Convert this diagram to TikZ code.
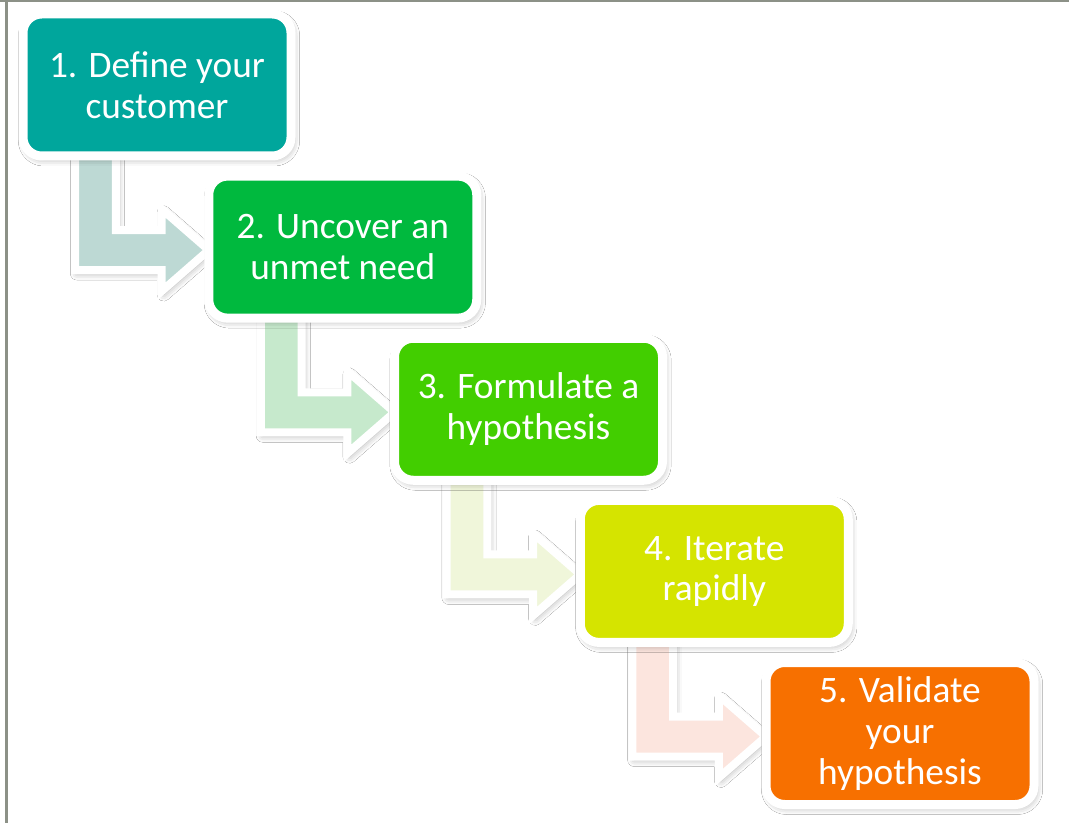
\documentclass[tikz,border=0pt]{standalone}
\usepackage{fontspec}
\setmainfont{Carlito}
\usetikzlibrary{shadows.blur,calc}
\pgfdeclarelayer{background}
\pgfsetlayers{background,main}
\definecolor{c1}{RGB}{0,166,156}
\definecolor{c2}{RGB}{0,185,62}
\definecolor{c3}{RGB}{66,206,0}
\definecolor{c4}{RGB}{213,228,0}
\definecolor{c5}{RGB}{247,112,0}
\definecolor{a1}{RGB}{189,217,212}
\definecolor{a2}{RGB}{198,233,204}
\definecolor{a4}{RGB}{240,246,218}
\definecolor{a5}{RGB}{252,229,222}
\definecolor{framegrey}{RGB}{140,145,135}
\tikzset{
  stepbox/.style={rounded corners=14pt, draw=white, line width=6.75pt,
    minimum width=201pt, minimum height=106.5pt, text=white, align=center,
    font=\fontsize{28}{30.5}\selectfont, inner sep=0pt,
    blur shadow={shadow xshift=1.5pt, shadow yshift=-2.5pt, shadow blur radius=5pt, shadow opacity=35}},
  arrowshape/.style={draw=white, line width=6pt, line join=miter,
    blur shadow={shadow xshift=1.5pt, shadow yshift=-2.5pt, shadow blur radius=5pt, shadow opacity=35}}
}
\newcommand\steparrow[3]{%
  \path[arrowshape, fill=#3] let \p1=(#1.south west), \p2=(#2.west) in
    (\x1+42.4pt, \y1+12pt) -- (\x1+42.4pt, \y2-17.25pt) -- (\x2-31.9pt, \y2-17.25pt)
    -- (\x2-31.9pt, \y2-33pt) -- (\x2+3.4pt, \y2-2.25pt) -- (\x2-31.9pt, \y2+28.5pt)
    -- (\x2-31.9pt, \y2+12.75pt) -- (\x1+73.1pt, \y2+12.75pt) -- (\x1+73.1pt, \y1+12pt) -- cycle;}
\begin{document}
\begin{tikzpicture}[x=0.75pt,y=-0.75pt]
\useasboundingbox (0,0) rectangle (1069,823);
\node[stepbox, fill=c1] (b1) at (157,85) {1. Define your\\customer};
\node[stepbox, fill=c2] (b2) at (342.75,247.1) {2. Uncover an\\unmet need};
\node[stepbox, fill=c3] (b3) at (528.5,409.25) {3. Formulate a\\hypothesis};
\node[stepbox, fill=c4] (b4) at (714.25,571.4) {4. Iterate\\rapidly};
\node[stepbox, fill=c5] (b5) at (900,733.5) {5. Validate\\your\\hypothesis};
\begin{pgfonlayer}{background}
  \fill[white] (0,0) rectangle (1069,823);
  \draw[framegrey, line width=2.25pt] (6.5,0) -- (6.5,823);
  \draw[framegrey, line width=1.5pt] (0,1) -- (1069,1);
  \steparrow{b1}{b2}{a1}
  \steparrow{b2}{b3}{a2}
  \steparrow{b3}{b4}{a4}
  \steparrow{b4}{b5}{a5}
\end{pgfonlayer}
\end{tikzpicture}
\end{document}
